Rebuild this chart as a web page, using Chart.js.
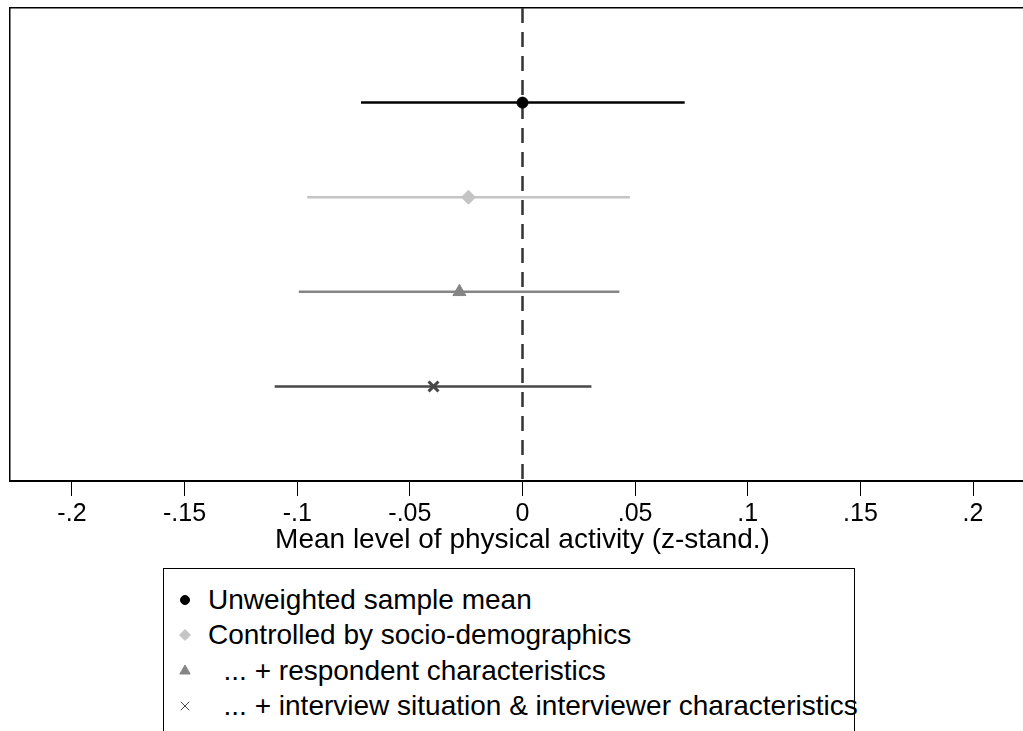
<!DOCTYPE html>
<html>
<head>
<meta charset="utf-8">
<script src="https://cdn.jsdelivr.net/npm/chart.js@4.4.1/dist/chart.umd.min.js"></script>
<style>
  html, body { margin: 0; padding: 0; background: #fff; overflow: hidden; }
  body { width: 1023px; height: 731px; position: relative; font-family: "Liberation Sans", Arial, sans-serif; }
  #wrap { position: absolute; left: 0; top: 0; width: 1035px; height: 562px; }
  #legend { position: absolute; left: 163px; top: 568px; width: 692px; height: 200px;
            border: 1px solid #000; box-sizing: border-box; padding-top: 13px; }
  .item { position: relative; height: 35.3px; line-height: 35.3px; font-size: 28px; color: #000; white-space: pre; }
  .item canvas { position: absolute; left: 11px; top: 8px; }
  .item span { position: absolute; left: 44px; top: 0; }
</style>
</head>
<body>
<div id="wrap"><canvas id="forest"></canvas></div>
<div id="legend"></div>
<script>
// model rows, top to bottom
const seriesLabels = [
    "Unweighted sample mean",
    "Controlled by socio-demographics",
    "  ... + respondent characteristics",
    "  ... + interview situation & interviewer characteristics"
];
const rows = [1, 2, 3, 4];
const estimates = [0, -0.024, -0.028, -0.0395];
const lower = [-0.0717, -0.0956, -0.0993, -0.110];
const upper = [0.0720, 0.0477, 0.0430, 0.0306];

const tickValues = [-0.2, -0.15, -0.1, -0.05, 0, 0.05, 0.1, 0.15, 0.2];
const tickLabels = ["-.2", "-.15", "-.1", "-.05", "0", ".05", ".1", ".15", ".2"];

const colors = ["#000000", "#c4c4c4", "#858585", "#474747"];
const markers = ["circle", "rectRot", "triangle", "crossRot"];
const markerSize = [5.5, 7, 7.5, 7];
const legendSize = [4.5, 5.5, 6, 6];

const xMin = -0.2275, xMax = 0.2275;
const FONT = "'Liberation Sans', Arial, sans-serif";

// one dataset per model: lower bound, estimate, upper bound on the same row
const datasets = rows.map((r, i) => ({
    label: seriesLabels[i],
    data: [{ x: lower[i], y: r }, { x: estimates[i], y: r }, { x: upper[i], y: r }],
    showLine: true,
    borderColor: colors[i],
    borderWidth: 2.5,
    backgroundColor: colors[i],
    pointBorderColor: colors[i],
    pointBackgroundColor: colors[i],
    pointStyle: markers[i],
    pointRadius: ctx => ctx.dataIndex === 1 ? markerSize[i] : 0,
    pointBorderWidth: markers[i] === "crossRot" ? 3 : 1,
    order: 1
}));

// reference line at zero
datasets.push({
    label: "zero",
    data: [{ x: 0, y: 0 }, { x: 0, y: 5 }],
    showLine: true,
    borderColor: "#333333",
    borderWidth: 2.5,
    borderDash: [15, 9],
    pointRadius: 0,
    order: 10
});

new Chart(document.getElementById("forest").getContext("2d"), {
    type: "scatter",
    data: { datasets: datasets },
    options: {
        responsive: true,
        maintainAspectRatio: false,
        animation: false,
        layout: { padding: { left: 10, top: 8, right: 0, bottom: 8 } },
        scales: {
            x: {
                type: "linear",
                min: xMin,
                max: xMax,
                afterBuildTicks: axis => { axis.ticks = tickValues.map(v => ({ value: v })); },
                ticks: {
                    color: "#000",
                    padding: 6,
                    font: { family: FONT, size: 25, lineHeight: 1.0 },
                    maxRotation: 0,
                    autoSkip: false,
                    callback: (v, idx) => tickLabels[idx]
                },
                grid: { drawOnChartArea: false, drawTicks: true, tickLength: 15, color: "#000", lineWidth: 1 },
                border: { display: true, color: "#000", width: 2 },
                title: {
                    display: true,
                    text: "Mean level of physical activity (z-stand.)",
                    color: "#000",
                    font: { family: FONT, size: 28, lineHeight: 1.0 },
                    padding: { top: -7, bottom: 0 }
                }
            },
            x2: {
                type: "linear",
                position: "top",
                min: xMin,
                max: xMax,
                ticks: { display: false },
                grid: { drawOnChartArea: false, drawTicks: false },
                border: { display: true, color: "#000", width: 1.5 },
                afterFit: axis => { axis.height = 0; }
            },
            y: {
                type: "linear",
                min: 0,
                max: 5,
                reverse: true,
                ticks: { display: false },
                grid: { drawOnChartArea: false, drawTicks: false },
                border: { display: true, color: "#000", width: 1.5 },
                afterFit: axis => { axis.width = 0; }
            }
        },
        plugins: {
            legend: { display: false },
            tooltip: { enabled: false }
        }
    }
});

// legend box below the plot
const legend = document.getElementById("legend");
seriesLabels.forEach((label, i) => {
    const item = document.createElement("div");
    item.className = "item";
    const c = document.createElement("canvas");
    c.width = 20; c.height = 20;
    const g = c.getContext("2d");
    g.fillStyle = colors[i];
    g.strokeStyle = colors[i];
    Chart.helpers.drawPoint(g, {
        pointStyle: markers[i],
        radius: legendSize[i],
        borderWidth: markers[i] === "crossRot" ? 2.5 : 1,
        rotation: 0
    }, 10, 10);
    const t = document.createElement("span");
    t.textContent = label;
    item.appendChild(c);
    item.appendChild(t);
    legend.appendChild(item);
});
</script>
</body>
</html>
